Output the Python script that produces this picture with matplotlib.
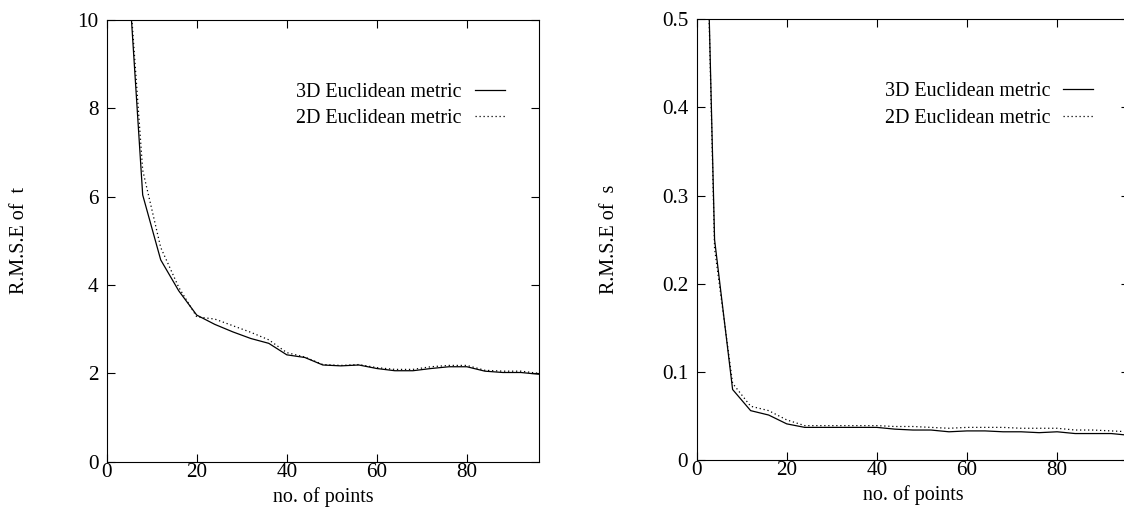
import matplotlib
matplotlib.use("Agg")
from matplotlib import pyplot as plt

# number of points used
n_points = [0, 4, 8, 12, 16, 20, 24, 28, 32, 36, 40, 44, 48,
            52, 56, 60, 64, 68, 72, 76, 80, 84, 88, 92, 96]

# R.M.S.E of t
t_3d = [25.0, 12.4, 6.04, 4.57, 3.87, 3.32, 3.11, 2.94, 2.79, 2.68, 2.42, 2.36, 2.19,
        2.17, 2.19, 2.11, 2.06, 2.06, 2.11, 2.15, 2.15, 2.05, 2.02, 2.02, 1.98]
t_2d = [25.0, 12.3, 6.6, 4.85, 3.95, 3.28, 3.23, 3.08, 2.93, 2.76, 2.47, 2.37, 2.20,
        2.18, 2.20, 2.13, 2.09, 2.09, 2.15, 2.18, 2.18, 2.07, 2.05, 2.05, 2.00]

# R.M.S.E of s
s_3d = [1.1, 0.25, 0.080, 0.056, 0.051, 0.041, 0.037, 0.037, 0.037, 0.037, 0.037, 0.035, 0.034,
        0.034, 0.032, 0.033, 0.033, 0.032, 0.032, 0.031, 0.032, 0.030, 0.030, 0.030, 0.028]
s_2d = [1.1, 0.24, 0.087, 0.061, 0.056, 0.0455, 0.039, 0.039, 0.039, 0.039, 0.039, 0.038, 0.038,
        0.037, 0.036, 0.037, 0.037, 0.037, 0.036, 0.036, 0.036, 0.034, 0.034, 0.033, 0.032]

x_ticks = [0, 20, 40, 60, 80]
t_ticks = [0, 2, 4, 6, 8, 10]
t_tick_labels = ["0", "2", "4", "6", "8", "10"]
s_ticks = [0, 0.1, 0.2, 0.3, 0.4, 0.5]
s_tick_labels = ["0", "0.1", "0.2", "0.3", "0.4", "0.5"]
series_labels = ["3D Euclidean metric", "2D Euclidean metric"]

plt.rcParams["font.family"] = ["Liberation Serif", "DejaVu Serif"]
plt.rcParams["font.size"] = 14.4

fig = plt.figure(figsize=(11.24, 5.08), dpi=100)
ax_t = fig.add_axes([0.0949, 0.0911, 0.3846, 0.8695])
ax_s = fig.add_axes([0.6197, 0.0945, 0.3850, 0.8675])


def style_axes(ax, y3, y2, yticks, ylabels, ymax, ylabel, legend_x):
    ax.plot(n_points, y3, color="black", lw=0.9, label=series_labels[0])
    ax.plot(n_points, y2, color="black", lw=0.9, linestyle=(0, (1, 2.2)),
            label=series_labels[1])
    ax.set_xlim(0, 96)
    ax.set_ylim(0, ymax)
    ax.set_xticks(x_ticks)
    ax.set_yticks(yticks)
    ax.set_yticklabels(ylabels)
    ax.tick_params(direction="in", length=6, width=0.8, top=True, right=True,
                   labelsize=15.2)
    ax.tick_params(axis="x", pad=1)
    ax.tick_params(axis="y", pad=6)
    for sp in ax.spines.values():
        sp.set_linewidth(0.8)
    ax.set_xlabel("no. of points")
    ax.xaxis.set_label_coords(0.5, -0.057)
    ax.set_ylabel("R.M.S.E of  " + ylabel)
    ax.yaxis.set_label_coords(-0.18, 0.5)
    ax.legend(loc="upper right", bbox_to_anchor=(legend_x, 0.858), frameon=False,
              markerfirst=False, handlelength=1.5, handletextpad=0.65,
              labelspacing=0.385, borderpad=0, borderaxespad=0)


style_axes(ax_t, t_3d, t_2d, t_ticks, t_tick_labels, 10, "t", 0.9214)
style_axes(ax_s, s_3d, s_2d, s_ticks, s_tick_labels, 0.5, "s", 0.917)

fig.savefig("out.png", dpi=100)
